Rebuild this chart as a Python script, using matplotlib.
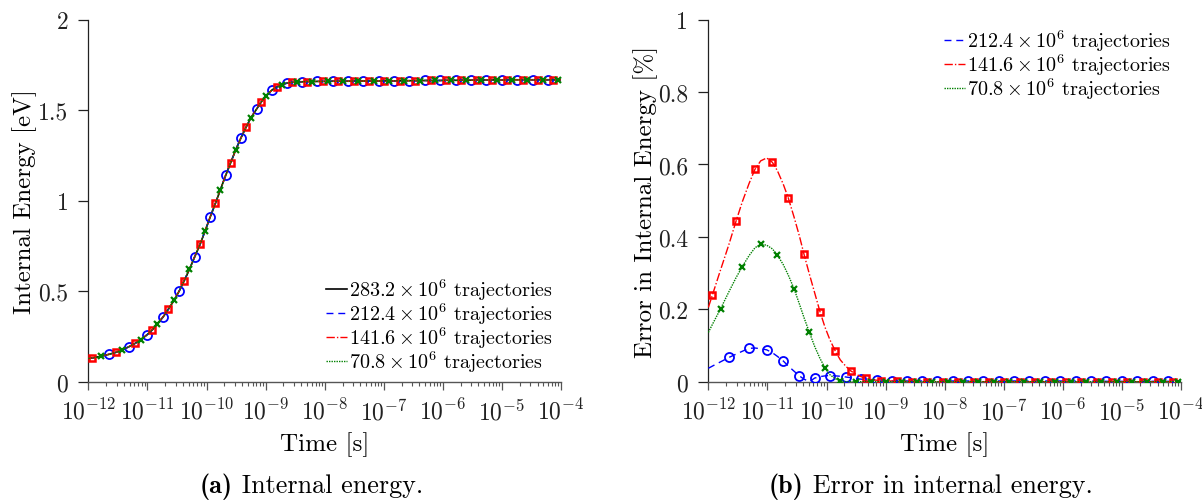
import numpy as np
import matplotlib
matplotlib.use("Agg")
import matplotlib.pyplot as plt
from matplotlib.lines import Line2D
from matplotlib.ticker import LogLocator, FixedLocator, NullFormatter

plt.rcParams["font.family"] = "serif"
plt.rcParams["font.serif"] = ["cmr10"]
plt.rcParams["mathtext.fontset"] = "cm"
plt.rcParams["axes.unicode_minus"] = False
plt.rcParams["axes.formatter.use_mathtext"] = True

# Output times of the simulation, as log10(t / s)
time_exponent = [
    -12.000, -11.932, -11.791, -11.650, -11.532, -11.425, -11.312, -11.210, -11.114, -11.013,
    -10.917, -10.832, -10.731, -10.646, -10.550, -10.460, -10.381, -10.290, -10.200, -10.110,
    -10.025, -9.941, -9.850, -9.766, -9.676, -9.591, -9.506, -9.416, -9.332, -9.247,
    -9.151, -9.072, -8.993, -8.897, -8.812, -8.728, -8.643, -8.547, -8.463, -8.378,
    -8.293, -8.209, -8.124, -8.023, -7.949, -7.865, -7.769, -7.684, -7.599, -7.504,
    -7.430, -7.346, -7.244, -7.165, -7.080, -6.990, -6.906, -6.821, -6.725, -6.652,
    -6.567, -6.471, -6.386, -6.302, -6.206, -6.133, -6.048, -5.952, -5.867, -5.783,
    -5.693, -5.608, -5.529, -5.427, -5.354, -5.269, -5.173, -5.089, -5.004, -4.920,
    -4.835, -4.750, -4.649, -4.570, -4.480, -4.395, -4.310, -4.226, -4.141, -4.056,
    -4.000,
]

# Internal energy of the reference run (283.2e6 trajectories), eV
energy_ref = [
    0.128, 0.131, 0.140, 0.151, 0.162, 0.176, 0.193, 0.211, 0.232, 0.257,
    0.286, 0.318, 0.359, 0.400, 0.449, 0.502, 0.555, 0.620, 0.690, 0.758,
    0.832, 0.907, 0.985, 1.060, 1.140, 1.210, 1.281, 1.348, 1.405, 1.459,
    1.507, 1.546, 1.580, 1.610, 1.628, 1.641, 1.649, 1.654, 1.656, 1.657,
    1.658, 1.658, 1.659, 1.659, 1.659, 1.660, 1.660, 1.660, 1.660, 1.661,
    1.661, 1.661, 1.661, 1.661, 1.662, 1.662, 1.662, 1.662, 1.662, 1.663,
    1.663, 1.663, 1.663, 1.664, 1.664, 1.664, 1.664, 1.665, 1.665, 1.665,
    1.665, 1.666, 1.666, 1.666, 1.666, 1.667, 1.667, 1.667, 1.667, 1.667,
    1.668, 1.668, 1.668, 1.668, 1.668, 1.668, 1.668, 1.668, 1.668, 1.668,
    1.668,
]

# Relative error in internal energy with respect to the reference run, %
error_212 = [
    0.037, 0.043, 0.055, 0.067, 0.076, 0.084, 0.092, 0.093, 0.091, 0.088,
    0.080, 0.070, 0.057, 0.043, 0.029, 0.016, 0.007, 0.000, 0.010, 0.014,
    0.016, 0.017, 0.016, 0.015, 0.013, 0.011, 0.009, 0.007, 0.006, 0.005,
    0.005, 0.004, 0.003, 0.002, 0.002, 0.002, 0.002, 0.002, 0.002, 0.002,
    0.002, 0.002, 0.002, 0.002, 0.002, 0.002, 0.002, 0.002, 0.002, 0.002,
    0.002, 0.002, 0.002, 0.002, 0.002, 0.002, 0.002, 0.002, 0.002, 0.002,
    0.002, 0.002, 0.002, 0.002, 0.002, 0.002, 0.002, 0.002, 0.002, 0.002,
    0.002, 0.002, 0.002, 0.002, 0.002, 0.001, 0.001, 0.001, 0.001, 0.001,
    0.001, 0.001, 0.001, 0.001, 0.001, 0.001, 0.001, 0.001, 0.001, 0.001,
    0.001,
]
error_141 = [
    0.205, 0.239, 0.310, 0.380, 0.443, 0.497, 0.547, 0.587, 0.610, 0.618,
    0.606, 0.583, 0.545, 0.507, 0.455, 0.403, 0.352, 0.297, 0.245, 0.193,
    0.150, 0.115, 0.084, 0.060, 0.043, 0.030, 0.021, 0.014, 0.009, 0.006,
    0.004, 0.003, 0.002, 0.002, 0.001, 0.001, 0.001, 0.000, 0.000, 0.000,
    0.000, 0.000, 0.000, 0.000, 0.000, 0.000, 0.000, 0.000, 0.000, 0.000,
    0.000, 0.000, 0.000, 0.000, 0.000, 0.000, 0.000, 0.000, 0.000, 0.000,
    0.000, 0.000, 0.000, 0.000, 0.000, 0.000, 0.000, 0.000, 0.000, 0.000,
    0.000, 0.000, 0.000, 0.000, 0.000, 0.000, 0.000, 0.000, 0.000, 0.000,
    0.000, 0.000, 0.000, 0.000, 0.000, 0.000, 0.000, 0.000, 0.000, 0.000,
    0.000,
]
error_70 = [
    0.136, 0.158, 0.202, 0.249, 0.287, 0.318, 0.348, 0.370, 0.380, 0.377,
    0.367, 0.350, 0.323, 0.294, 0.257, 0.215, 0.177, 0.136, 0.097, 0.064,
    0.038, 0.019, 0.008, 0.002, 0.000, 0.000, 0.000, 0.000, 0.000, 0.000,
    0.000, 0.000, 0.000, 0.000, 0.000, 0.000, 0.000, 0.000, 0.000, 0.000,
    0.000, 0.000, 0.000, 0.000, 0.000, 0.000, 0.000, 0.000, 0.000, 0.000,
    0.000, 0.000, 0.000, 0.000, 0.000, 0.000, 0.000, 0.000, 0.000, 0.000,
    0.000, 0.000, 0.000, 0.000, 0.000, 0.000, 0.000, 0.000, 0.000, 0.000,
    0.000, 0.000, 0.000, 0.000, 0.000, 0.000, 0.000, 0.000, 0.000, 0.000,
    0.000, 0.000, 0.000, 0.000, 0.000, 0.000, 0.000, 0.000, 0.000, 0.000,
    0.000,
]

labels = [
    r"$283.2 \times 10^6$ trajectories",
    r"$212.4 \times 10^6$ trajectories",
    r"$141.6 \times 10^6$ trajectories",
    r"$70.8 \times 10^6$ trajectories",
]
energy_ticks = [0, 0.5, 1, 1.5, 2]
error_ticks = [0, 0.2, 0.4, 0.6, 0.8, 1]
captions = [("(a)", "Internal energy."), ("(b)", "Error in internal energy.")]

time = 10.0 ** np.array(time_exponent)
e_ref = np.array(energy_ref)
errors = [np.array(error_212), np.array(error_141), np.array(error_70)]

styles = [
    dict(color="#0000ff", ls=(0, (5, 3.5)), marker="o", ms=6.5, mfc="none", mew=1.3,
         markevery=slice(3, 88, 3)),
    dict(color="#ff0000", ls=(0, (6, 1.5, 1, 1.5)), marker="s", ms=4.6, mfc="none", mew=1.8,
         markevery=slice(1, 89, 3)),
    dict(color="#008000", ls=(0, (1, 0.8)), marker="x", ms=4.2, mew=1.6,
         markevery=slice(2, 90, 3)),
]

fig = plt.figure(figsize=(12.02, 5.02), dpi=100)
ax_a = fig.add_axes([0.0735, 0.2377, 0.3933, 0.7211])
ax_b = fig.add_axes([0.5893, 0.2377, 0.3933, 0.7211])

TICK_FS = 17
LABEL_FS = 18


def style_axes(ax, yticks):
    ax.set_xscale("log")
    ax.set_xlim(1e-12, 1e-4)
    ax.set_ylim(yticks[0], yticks[-1])
    ax.xaxis.set_major_locator(LogLocator(base=10, numticks=20))
    ax.xaxis.set_minor_locator(LogLocator(base=10, subs=np.arange(2, 10), numticks=100))
    ax.xaxis.set_minor_formatter(NullFormatter())
    ax.yaxis.set_major_locator(FixedLocator(yticks))
    ax.set_yticklabels([f"{v:g}" for v in yticks])
    for side in ("top", "right"):
        ax.spines[side].set_visible(False)
    ax.spines["left"].set_color("#222222")
    ax.spines["bottom"].set_color("#555555")
    ax.spines["left"].set_linewidth(0.9)
    ax.spines["bottom"].set_linewidth(1.0)
    ax.tick_params(axis="both", which="major", direction="out", labelsize=TICK_FS,
                   colors="#222222", width=0.9)
    ax.tick_params(axis="x", which="major", length=6, pad=6, color="#555555")
    ax.tick_params(axis="x", which="minor", direction="out", length=3, width=0.8,
                   color="#555555")
    ax.tick_params(axis="y", which="major", length=7.2, pad=7.2)
    ax.set_xlabel("Time [s]", fontsize=LABEL_FS, labelpad=5)


# (a) internal energy
ax_a.plot(time, e_ref, color="black", lw=1.2, zorder=2)
for err, st in zip(errors, styles):
    ax_a.plot(time, e_ref * (1 + err / 100.0), lw=1.0, zorder=3, **st)
style_axes(ax_a, energy_ticks)
ax_a.set_ylabel("Internal Energy [eV]", fontsize=LABEL_FS, labelpad=0.5)

# (b) error in internal energy
for err, st in zip(errors, styles):
    ax_b.plot(time, err, lw=1.0, zorder=3, **st)
style_axes(ax_b, error_ticks)
ax_b.set_ylabel("Error in Internal Energy [%]", fontsize=LABEL_FS, labelpad=0.5)

handles = [Line2D([], [], color="black", lw=1.2)] + [
    Line2D([], [], color=st["color"], ls=st["ls"], lw=1.0) for st in styles
]
legend_kw = dict(frameon=False, fontsize=14.5, handlelength=1.05, handletextpad=0.1,
                 labelspacing=-0.08, borderaxespad=0.0)
ax_a.legend(handles, labels, loc="lower right", bbox_to_anchor=(1.0, 0.0), **legend_kw)
ax_b.legend(handles[1:], labels[1:], loc="upper right", bbox_to_anchor=(0.995, 1.0),
            **legend_kw)

# sub-figure captions: bold tag followed by plain text
renderer = fig.canvas.get_renderer()
CAP_FS = 18.8
caption_left_px = [200, 769]
for left_px, (tag, text) in zip(caption_left_px, captions):
    x0 = left_px / fig.bbox.width
    t_tag = fig.text(x0, 0.017, tag, fontfamily="cmb10", fontsize=CAP_FS, va="baseline")
    w_tag = t_tag.get_window_extent(renderer).width / fig.bbox.width
    fig.text(x0 + w_tag, 0.017, " " + text, fontsize=CAP_FS, va="baseline")

fig.savefig("out.png", dpi=100)
